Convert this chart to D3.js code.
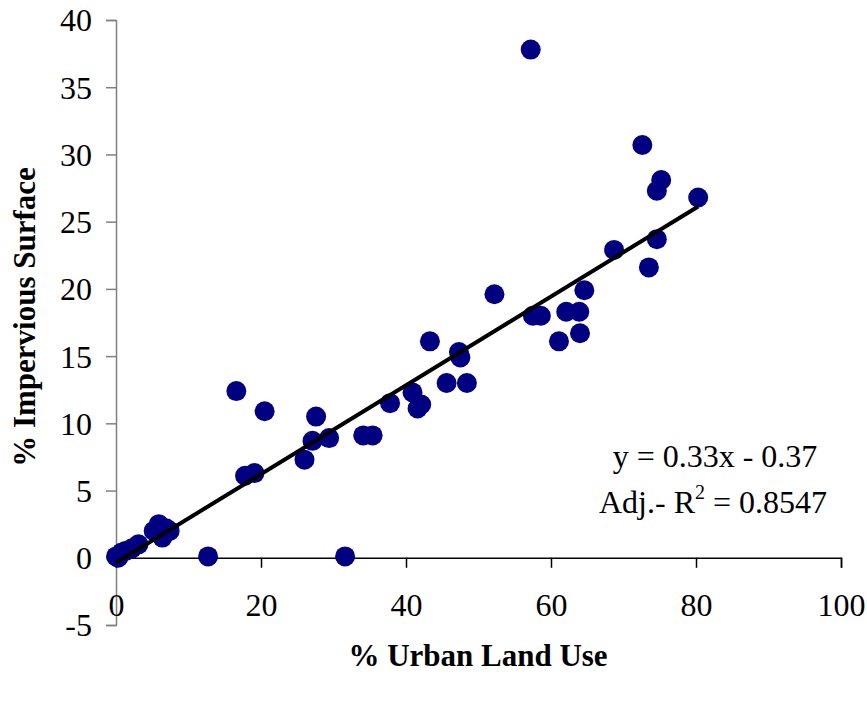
<!DOCTYPE html>
<html>
<head>
	<title>urban vs impervious</title>
	<script src="https://cdn.jsdelivr.net/npm/d3@7"></script>
</head>
<style type="text/css">
body { margin: 0; background: #fff; }
text { font-family: "Liberation Serif", "Times New Roman", serif; }
</style>
<body>
</body>
<script type="text/javascript">
	// % urban land use (x) and % impervious surface (y)
	var urban = [0.0, 0.3, 0.8, 1.3, 2.2, 3.1, 5.2, 5.9, 6.4, 7.4, 6.9, 12.7,
		16.6, 17.8, 19.1, 20.5, 26.0, 27.1, 27.6, 29.4, 31.6, 34.1, 35.4, 37.8,
		40.9, 41.6, 42.1, 43.3, 45.6, 47.3, 47.5, 48.4, 52.2, 57.2, 57.5, 58.6,
		61.1, 62.1, 63.9, 64.0, 64.6, 68.7, 72.6, 73.5, 74.6, 74.6, 75.2, 80.3];
	var impervious = [0.1, 0.0, 0.4, 0.5, 0.7, 1.0, 2.0, 2.5, 1.5, 2.0, 2.2, 0.1,
		12.4, 6.1, 6.3, 10.9, 7.3, 8.7, 10.5, 8.9, 0.1, 9.1, 9.1, 11.5,
		12.3, 11.1, 11.4, 16.1, 13.0, 15.3, 14.9, 13.0, 19.6, 37.8, 18.0, 18.0,
		16.1, 18.3, 18.3, 16.7, 19.9, 22.9, 30.7, 21.6, 23.7, 27.3, 28.1, 26.8];
	var xTicks = [0, 20, 40, 60, 80, 100];
	var yTicks = [-5, 0, 5, 10, 15, 20, 25, 30, 35, 40];
	var slope = 0.33, intercept = -0.37;
	var fitRange = [0, 80.3];

	var w = 867, h = 701;
	var svg = d3.select("body").append("svg").attr("width", w).attr("height", h);

	var x = d3.scaleLinear().domain([0, 100]).range([116, 841]);
	var y = d3.scaleLinear().domain([-5, 40]).range([625, 20]);

	// y axis (gray line, ticks outside)
	var yAxis = svg.append("g")
		.attr("transform", "translate(" + x(0) + ",0)")
		.call(d3.axisLeft(y).tickValues(yTicks).tickSize(10).tickPadding(14)
			.tickFormat(function(d){ return String(d); }));
	yAxis.select(".domain").attr("stroke", "#808080").attr("stroke-width", 1.5);
	yAxis.selectAll(".tick line").attr("stroke", "#808080").attr("stroke-width", 1.5);
	yAxis.selectAll("text").attr("font-size", 32).attr("fill", "#000")
		.attr("font-family", "Liberation Serif").attr("dy", "0.34em");

	// x axis at y = 0
	var xAxis = svg.append("g")
		.attr("transform", "translate(0," + y(0) + ")")
		.call(d3.axisBottom(x).tickValues(xTicks).tickSize(10).tickPadding(26)
			.tickFormat(function(d){ return String(d); }));
	xAxis.select(".domain").attr("stroke", "#000").attr("stroke-width", 1.5);
	xAxis.selectAll(".tick line").attr("stroke", "#000").attr("stroke-width", 1.5);
	xAxis.selectAll("text").attr("font-size", 32).attr("fill", "#000")
		.attr("font-family", "Liberation Serif");

	// points
	svg.append("g").selectAll("circle").data(urban).enter().append("circle")
		.attr("cx", function(d){ return x(d); })
		.attr("cy", function(d,i){ return y(impervious[i]); })
		.attr("r", 10)
		.attr("fill", "#000080");

	// fitted line
	svg.append("line")
		.attr("x1", x(fitRange[0])).attr("y1", y(slope * fitRange[0] + intercept))
		.attr("x2", x(fitRange[1])).attr("y2", y(slope * fitRange[1] + intercept))
		.attr("stroke", "#000").attr("stroke-width", 4);

	// equation
	svg.append("text").attr("x", 715).attr("y", 467).attr("text-anchor", "middle")
		.attr("font-size", 32).text("y = 0.33x - 0.37");
	var eq2 = svg.append("text").attr("x", 713).attr("y", 513).attr("text-anchor", "middle")
		.attr("font-size", 32);
	eq2.append("tspan").text("Adj.- R");
	eq2.append("tspan").attr("font-size", 20).attr("dy", -14).text("2");
	eq2.append("tspan").attr("dy", 14).text(" = 0.8547");

	// axis titles
	svg.append("text").attr("x", 478).attr("y", 666).attr("text-anchor", "middle")
		.attr("font-size", 31).attr("font-weight", "bold").text("% Urban Land Use");
	svg.append("text").attr("transform", "translate(35,317) rotate(-90)")
		.attr("text-anchor", "middle").attr("font-size", 31).attr("font-weight", "bold")
		.text("% Impervious Surface");
</script>
</html>
